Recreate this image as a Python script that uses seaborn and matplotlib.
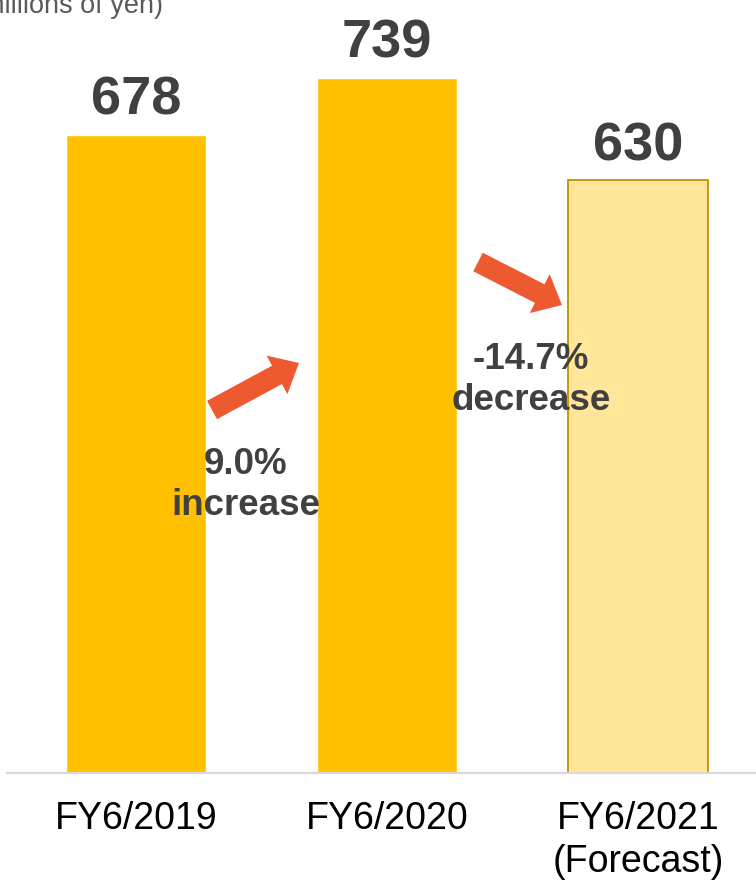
import matplotlib
matplotlib.use("Agg")
import matplotlib.pyplot as plt
import seaborn as sns
import pandas as pd

# Net sales by fiscal year (millions of yen)
periods = ["FY6/2019", "FY6/2020", "FY6/2021\n(Forecast)"]
sales = [678, 739, 630]
bar_colors = ["#FFC000", "#FFC000", "#FFE699"]
changes = ["9.0%\nincrease", "-14.7%\ndecrease"]

sns.set_theme(style="white")
plt.rcParams["font.family"] = ["Liberation Sans", "DejaVu Sans"]

W, H, DPI = 756, 881, 100
fig = plt.figure(figsize=(W / DPI, H / DPI), dpi=DPI)

# axes: baseline at y=773 px, spanning the full width from x=7 px
base_px = 773
ax = fig.add_axes([7 / W, (H - base_px) / H, (W - 7) / W, base_px / H])

df = pd.DataFrame({"period": periods, "sales": sales})
sns.barplot(data=df, x="period", y="sales", hue="period", palette=bar_colors,
            legend=False, width=0.558, saturation=1, ax=ax)

# forecast bar gets a darker gold outline
forecast_bar = ax.patches[2]
forecast_bar.set_edgecolor("#BF9000")
forecast_bar.set_linewidth(1.3)

px_per_cat = 251.0
px_per_unit = 638 / 678
ax.set_xlim(-(136 - 7) / px_per_cat, 2 + (W - 638) / px_per_cat)
ax.set_ylim(0, base_px / px_per_unit)

for cont in ax.containers:
    ax.bar_label(cont, fmt="%d", padding=6.5, fontsize=39, fontweight="bold",
                 color="#404040")

ax.set_xlabel("")
ax.set_ylabel("")
ax.set_yticks([])
ax.tick_params(axis="x", length=0, pad=20, labelsize=27, labelcolor="#000000")
for lbl in ax.get_xticklabels():
    lbl.set_linespacing(1.25)
for side in ["top", "left", "right"]:
    ax.spines[side].set_visible(False)
ax.spines["bottom"].set_color("#D9D9D9")
ax.spines["bottom"].set_linewidth(1.6)


def to_data(px, py):
    return ((px - 136) / px_per_cat, (base_px - py) / px_per_unit)


arrow_style = "simple,head_length=1.2,head_width=2.1,tail_width=1.0"
arrows = [((212, 410), (299, 363)), ((478, 262), (562, 305))]
for tail, tip in arrows:
    ax.annotate("", xy=to_data(*tip), xytext=to_data(*tail),
                arrowprops=dict(arrowstyle=arrow_style, mutation_scale=15,
                                color="#EE5A30", shrinkA=0, shrinkB=0, lw=0),
                zorder=5)

text_centers = [(246, 485), (531, 380)]
for txt, (cx, cy) in zip(changes, text_centers):
    ax.text(*to_data(cx, cy), txt, ha="center", va="center", fontsize=26.5,
            fontweight="bold", color="#404040", linespacing=1.22, zorder=6)

fig.text(163 / W, (H - 13) / H, "(millions of yen)", ha="right", va="baseline",
         fontsize=19.5, color="#595959")

fig.savefig("out.png", dpi=DPI)
